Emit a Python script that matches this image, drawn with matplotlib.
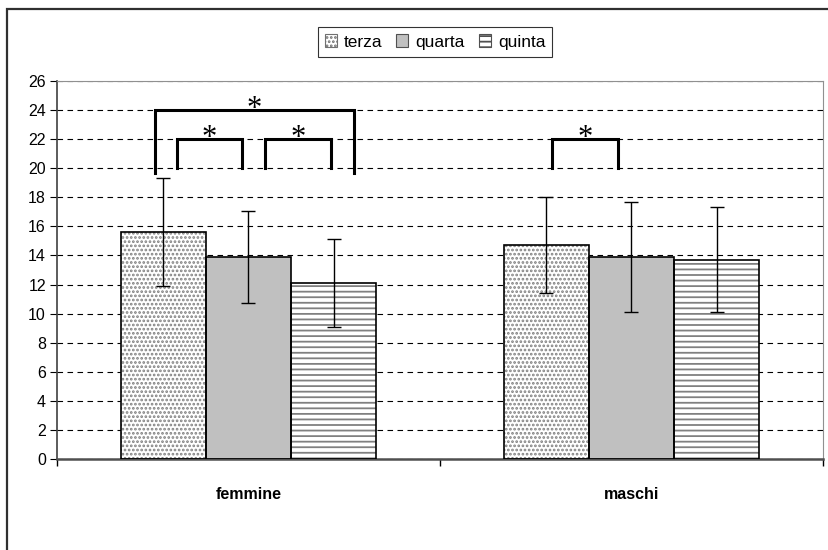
import matplotlib
matplotlib.use("Agg")
import matplotlib.pyplot as plt
from matplotlib.patches import Rectangle, Patch
import numpy as np

plt.rcParams['font.family'] = ['Liberation Sans', 'DejaVu Sans']

categories = ["femmine", "maschi"]
series_names = ["terza", "quarta", "quinta"]
terza = [15.6, 14.7]
quarta = [13.9, 13.9]
quinta = [12.1, 13.7]
terza_err = [3.7, 3.3]
quarta_err = [3.15, 3.8]
quinta_err = [3.05, 3.6]
y_ticks = list(range(0, 27, 2))

# significance brackets: (x_left, x_right, top, bottom) in data units
brackets = [(-0.244, 0.2755, 24, 19.7),
            (-0.187, -0.017, 22, 20),
            (0.043, 0.215, 22, 20),
            (0.792, 0.965, 22, 20)]

fig = plt.figure(figsize=(8.29, 5.5), dpi=100)
ax = fig.add_axes([57/829, 1-459/550, (823-57)/829, (459-81)/550])

x = np.arange(len(categories))
w = 1/4.5
values = [terza, quarta, quinta]
errs = [terza_err, quarta_err, quinta_err]
offsets = [-w, 0, w]
faces = ['white', '#C0C0C0', 'white']
hatches = ['....', None, '---']

plt.rcParams['hatch.linewidth'] = 1.3
for v, e, off, fc, h in zip(values, errs, offsets, faces, hatches):
    ax.bar(x + off, v, width=w, color=fc, edgecolor='#808080' if h else fc,
           hatch=h, linewidth=0, zorder=2)
    ax.bar(x + off, v, width=w, color='none', edgecolor='black', linewidth=1.2, zorder=3)
    ax.errorbar(x + off, v, yerr=e, fmt='none', ecolor='black', elinewidth=1,
                capsize=5, capthick=1, zorder=4)

for (x1, x2, top, bot) in brackets:
    ax.plot([x1, x1, x2, x2], [bot, top, top, bot], color='black', lw=2.2,
            solid_joinstyle='miter', zorder=5, clip_on=False)
    ax.text((x1+x2)/2, top - 0.45, '*', ha='center', va='baseline', fontsize=22,
            family='Liberation Serif', zorder=5)

ax.set_xlim(-0.5, 1.5)
ax.set_ylim(0, 26)
ax.set_yticks(y_ticks)
ax.set_yticklabels([str(t) for t in y_ticks], fontsize=11.5)
ax.yaxis.grid(True, linestyle=(0, (5, 4)), color='black', linewidth=0.8)
ax.set_axisbelow(True)
ax.set_xticks(x)
ax.set_xticklabels(categories, fontsize=11.5, fontweight='bold')
ax.set_xticks([-0.5, 0.5, 1.5], minor=True)
ax.tick_params(axis='x', which='major', length=0, pad=20)
ax.tick_params(axis='x', which='minor', length=5, width=1, direction='out')
ax.tick_params(axis='y', length=5, width=0.8, direction='out', pad=3)
for s in ['top', 'right']:
    ax.spines[s].set_color('#909090')
    ax.spines[s].set_linewidth(0.8)
ax.spines['left'].set_color('#404040')
ax.spines['left'].set_linewidth(1.2)
ax.spines['bottom'].set_color('#505050')
ax.spines['bottom'].set_linewidth(1.8)

handles = [Patch(facecolor='white', edgecolor='#707070', hatch='....', linewidth=0.8),
           Patch(facecolor='#C0C0C0', edgecolor='#505050', linewidth=0.8),
           Patch(facecolor='white', edgecolor='#505050', hatch='---', linewidth=0.8)]
leg = fig.legend(handles, series_names, loc='center', bbox_to_anchor=(435/829, 1-42/550),
                 ncol=3, fontsize=12.5, handlelength=0.7, handleheight=0.7,
                 handletextpad=0.4, columnspacing=0.8, borderpad=0.4, borderaxespad=0,
                 fancybox=False, frameon=True, edgecolor='black')
leg.get_frame().set_linewidth(0.8)

fig.patches.append(Rectangle((7/829, -0.1), 1.2, 1.1 - 9/550, transform=fig.transFigure,
                             fill=False, edgecolor='#303030', linewidth=1.6))

fig.savefig('out.png', dpi=100)
